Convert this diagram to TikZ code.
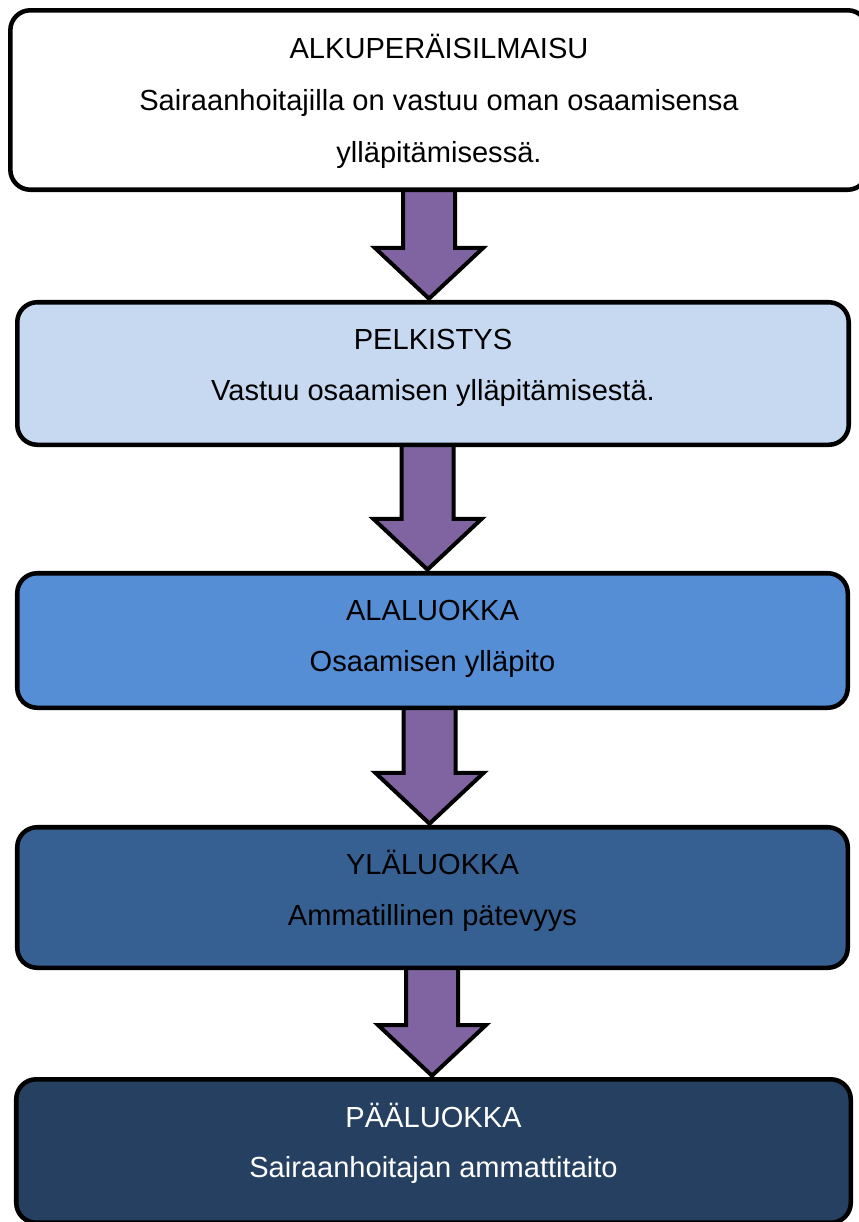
\documentclass[tikz,border=0pt]{standalone}
\usepackage{fontspec}
\setmainfont{Liberation Sans}
\usetikzlibrary{calc}
\pgfdeclarelayer{paper}
\pgfdeclarelayer{bg}
\pgfsetlayers{paper,bg,main}
\definecolor{cLight}{HTML}{C6D9F1}
\definecolor{cMid}{HTML}{558ED5}
\definecolor{cBlue}{HTML}{376092}
\definecolor{cDark}{HTML}{254061}
\definecolor{cPurple}{HTML}{8064A2}
\tikzset{
  box/.style={draw=black, line width=3.4pt, rounded corners=15pt, rectangle, inner sep=0pt},
  txt/.style={anchor=base, inner sep=0pt, font=\fontsize{21.8pt}{26pt}\selectfont},
  fatarrow/.style={draw=black, fill=cPurple, line width=3pt, line join=miter},
}
\newcommand\fatarr[3]{%
  \draw[fatarrow] let \p1=(#1.south), \p2=(#2.north) in
    ({#3*0.75pt-19.5pt},{\y1+3pt}) -- ({#3*0.75pt-19.5pt},{\y2+39pt}) --
    ({#3*0.75pt-40.5pt},{\y2+39pt}) -- ({#3*0.75pt},{\y2+1pt}) --
    ({#3*0.75pt+40.5pt},{\y2+39pt}) -- ({#3*0.75pt+19.5pt},{\y2+39pt}) --
    ({#3*0.75pt+19.5pt},{\y1+3pt}) -- cycle;}
\begin{document}
\begin{tikzpicture}[x=0.75pt, y=-0.75pt]
\clip (0,0) rectangle (859,1222);
\begin{pgfonlayer}{paper}
\fill[white] (0,0) rectangle (859,1222);
\end{pgfonlayer}
% boxes
\node[box, fill=white, minimum width=643pt, minimum height=134.6pt] (b1) at (439,100) {};
\node[box, fill=cLight, minimum width=623.6pt, minimum height=106.9pt] (b2) at (433,373.5) {};
\node[box, fill=cMid, minimum width=622.9pt, minimum height=100.9pt] (b3) at (432.5,640.5) {};
\node[box, fill=cBlue, minimum width=622.9pt, minimum height=105.4pt] (b4) at (432.5,897.5) {};
\node[box, fill=cDark, minimum width=625.9pt, minimum height=107.6pt] (b5) at (433.5,1151) {};
% texts
\node[txt] (t1a) at ($(b1.north)+(0,50)$) {ALKUPERÄISILMAISU};
\node[txt] (t1b) at ($(b1.north)+(0,102)$) {Sairaanhoitajilla on vastuu oman osaamisensa};
\node[txt] (t1c) at ($(b1.north)+(0,154)$) {ylläpitämisessä.};
\node[txt] (t2a) at ($(b2.north)+(0,50)$) {PELKISTYS};
\node[txt] (t2b) at ($(b2.north)+(0,100.5)$) {Vastuu osaamisen ylläpitämisestä.};
\node[txt] (t3a) at ($(b3.north)+(0,50)$) {ALALUOKKA};
\node[txt] (t3b) at ($(b3.north)+(0,100.5)$) {Osaamisen ylläpito};
\node[txt] (t4a) at ($(b4.north)+(0,50)$) {YLÄLUOKKA};
\node[txt] (t4b) at ($(b4.north)+(0,100.5)$) {Ammatillinen pätevyys};
\node[txt, text=white] (t5a) at ($(b5.north)+(0,50)$) {PÄÄLUOKKA};
\node[txt, text=white] (t5b) at ($(b5.north)+(0,100.5)$) {Sairaanhoitajan ammattitaito};
% arrows
\begin{pgfonlayer}{bg}
\fatarr{b1}{b2}{429}
\fatarr{b2}{b3}{427.5}
\fatarr{b3}{b4}{429.5}
\fatarr{b4}{b5}{432}
\end{pgfonlayer}
\end{tikzpicture}
\end{document}
